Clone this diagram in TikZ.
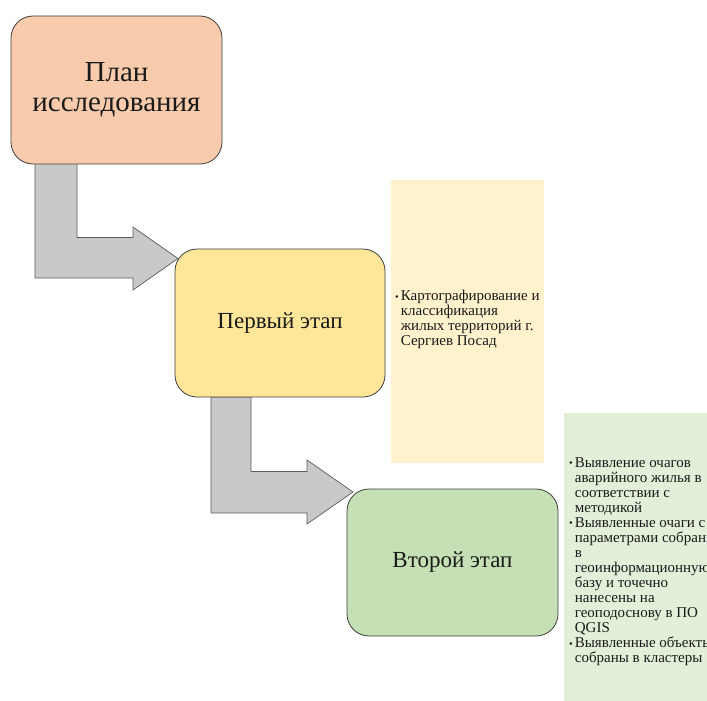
\documentclass[tikz,border=0pt]{standalone}
\usepackage{fontspec}
\setmainfont{Liberation Serif}
\definecolor{peach}{HTML}{F8CBAD}
\definecolor{gold}{HTML}{FFE699}
\definecolor{leaf}{HTML}{C5E0B4}
\definecolor{cream}{HTML}{FFF2CC}
\definecolor{mint}{HTML}{E2F0D9}
\definecolor{arrowgray}{HTML}{C9C9C9}
\definecolor{edge}{HTML}{3F3F3F}
\definecolor{ink}{HTML}{1A1A1A}
\tikzset{
  stagebox/.style={draw=edge, line width=0.8pt, rounded corners=22pt, inner sep=0pt, align=center, text=ink},
  bentarrow/.style={draw=edge!85, fill=arrowgray, line width=0.7pt, line join=miter},
  bullettext/.style={anchor=west, inner sep=0pt, text=ink, font=\fontsize{15}{15}\selectfont}
}
\newcommand{\smallbullet}{\raisebox{0.5pt}{\scalebox{0.7}{\textbullet}}}
\begin{document}
\begin{tikzpicture}[x=1pt,y=-1pt]
\useasboundingbox (0,0) rectangle (707,701);
\clip (0,0) rectangle (707,701);
% side panels
\fill[cream] (391,180) rectangle (544,463);
\fill[mint] (564,413) rectangle (740,701);
% bent arrows
\draw[bentarrow] (35,163) -- (77,163) -- (77,237.5) -- (133,237.5) -- (133,227) -- (178,258.5) -- (133,290) -- (133,278) -- (35,278) -- cycle;
\draw[bentarrow] (211,397) -- (251,397) -- (251,471.5) -- (307,471.5) -- (307,460) -- (353,492) -- (307,524) -- (307,513) -- (211,513) -- cycle;
% stage boxes
\node[stagebox, fill=peach, minimum width=211pt, minimum height=148pt, font=\fontsize{29}{30}\selectfont] (plan) at (116.5,90) {План\\исследования};
\node[stagebox, fill=gold, minimum width=210pt, minimum height=148pt, font=\fontsize{23}{25}\selectfont] (first) at (280,323) {Первый этап};
\node[stagebox, fill=leaf, minimum width=211pt, minimum height=147pt, font=\fontsize{23}{25}\selectfont] (second) at (452.5,562.5) {Второй этап};
% bullet texts
\node[bullettext] (firsttext) at (395,320) {\begin{tabular}{@{}l@{\hspace{2pt}}l@{}}
\smallbullet & Картографирование и\\
 & классификация\\
 & жилых территорий г.\\
 & Сергиев Посад
\end{tabular}};
\node[bullettext] (secondtext) at (569,562) {\begin{tabular}{@{}l@{\hspace{2pt}}l@{}}
\smallbullet & Выявление очагов\\
 & аварийного жилья в\\
 & соответствии с\\
 & методикой\\
\smallbullet & Выявленные очаги с\\
 & параметрами собраны\\
 & в\\
 & геоинформационную\\
 & базу и точечно\\
 & нанесены на\\
 & геоподоснову в ПО\\
 & QGIS\\
\smallbullet & Выявленные объекты\\
 & собраны в кластеры
\end{tabular}};
\end{tikzpicture}
\end{document}
